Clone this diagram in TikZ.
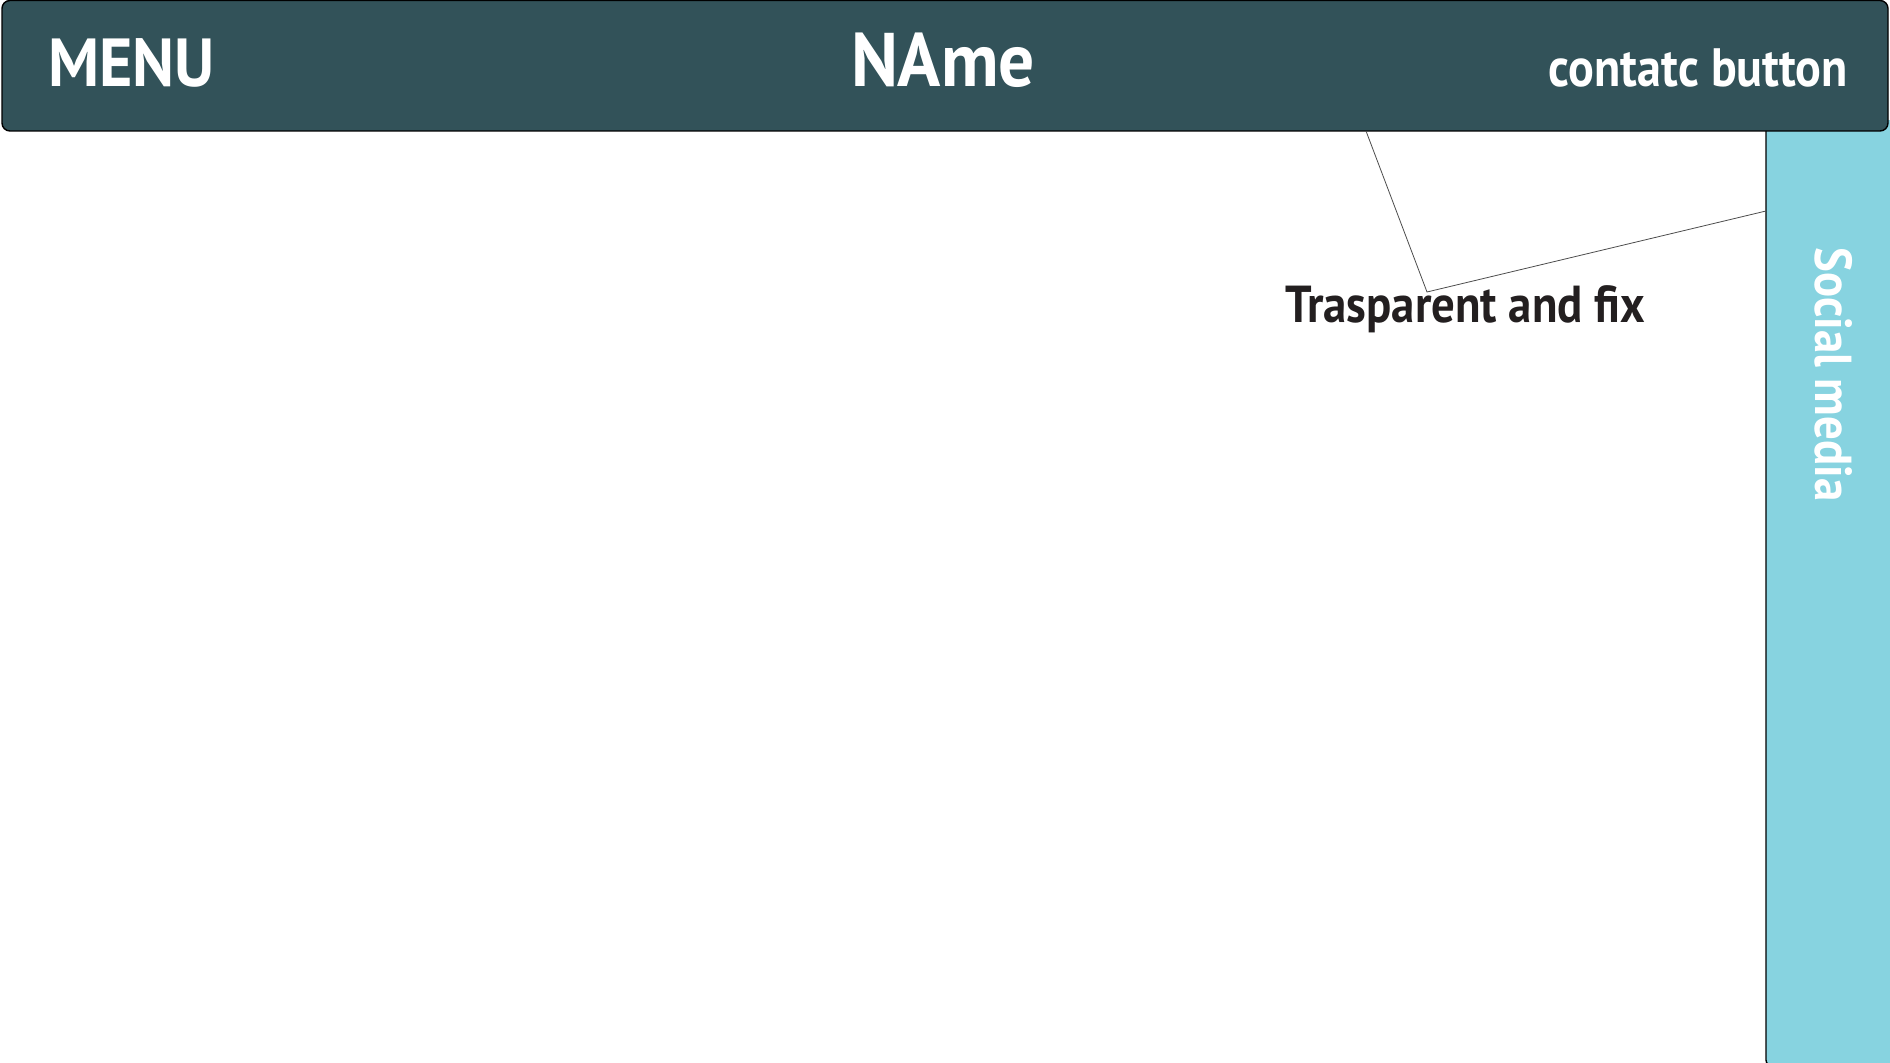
\documentclass[tikz,border=0pt]{standalone}
\usepackage{fontspec}
\setmainfont{PT Sans}
\usepackage{tikz}
\definecolor{headbg}{HTML}{325259}
\definecolor{sidebg}{HTML}{87D3E0}
\definecolor{notetxt}{HTML}{231F20}
\tikzset{
    headtext/.style n args={2}{text=white,inner sep=0pt,
        font=\bfseries\fontsize{#1}{#1}\selectfont\addfontfeatures{FakeStretch=#2}},
    leader/.style={draw=black!70,line width=0.4pt}
}

\begin{document}
\begin{tikzpicture}[x=0.5pt,y=-0.5pt]
            \useasboundingbox (0,0) rectangle (1890,1063);

            \fill [sidebg] (1766,120) rectangle (1890,1063);
            \draw [line width=0.7pt,rounded corners=3pt] (1766,120) -- (1766,1066) -- (1800,1066);

            \draw [fill=headbg,line width=0.7pt,rounded corners=4pt] (2,0.5) rectangle (1888,131);

            \node [headtext={34}{0.94},anchor=base west] (menu) at (48,87) {MENU};
            \node [headtext={38}{0.94},anchor=base] (name) at (943,87) {NAme};
            \node [headtext={27}{0.89},anchor=base east] (contact) at (1848,87) {contatc button};
            \node [headtext={26}{0.9},rotate=-90,anchor=base west] (social) at (1815,247) {Social media};
            \node [headtext={26}{0.9},text=notetxt,anchor=base west] (note) at (1285,323) {Trasparent and fix};

            \coordinate (headfoot) at (1366,131);
            \coordinate (notetip) at (1427,292);
            \coordinate (sideedge) at (1766,211);
            \draw [leader] (headfoot) -- (notetip) -- (sideedge);
        \end{tikzpicture}
\end{document}
